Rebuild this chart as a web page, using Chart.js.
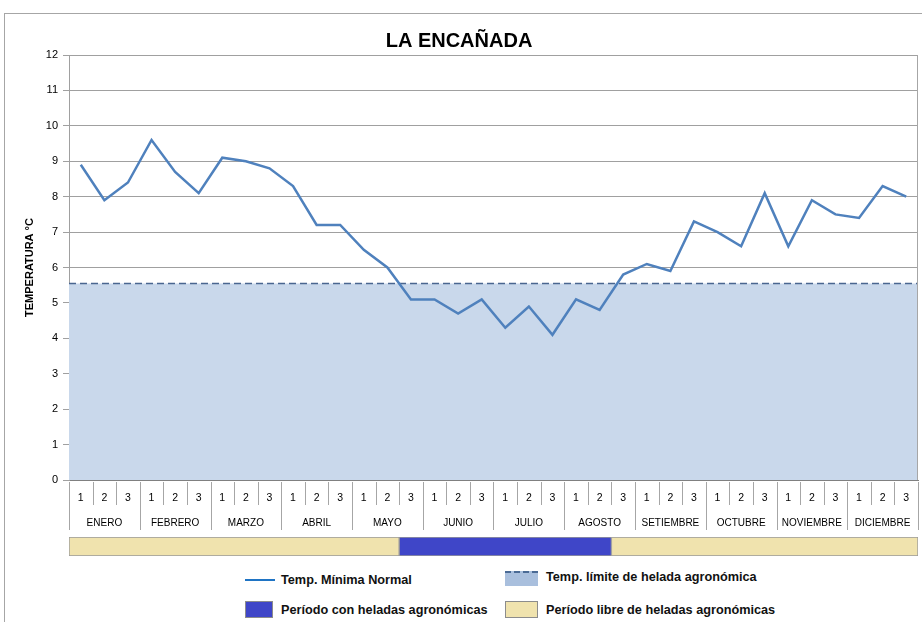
<!DOCTYPE html>
<html>
<head>
<meta charset="utf-8">
<script src="https://cdn.jsdelivr.net/npm/chart.js@4"></script>
<style>
  body { margin: 0; background: #fff; font-family: "Liberation Sans", Arial, sans-serif; }
  #marco { position: absolute; left: 4px; top: 13px; width: 940px; height: 640px; border: 1px solid #A6A6A6; }
  #graf { position: absolute; left: 0; top: 0; width: 922px; height: 535px; }
  #peri { position: absolute; left: 0; top: 535px; width: 922px; height: 24px; }
  .ley { position: absolute; font-size: 12.7px; font-weight: bold; color: #111; white-space: nowrap; }
  .muestra { position: absolute; }
</style>
</head>
<body>
<div id="marco"></div>
<div id="graf"><canvas id="chartTemp"></canvas></div>
<div id="peri"><canvas id="chartPeriodo"></canvas></div>

<!-- leyenda -->
<div class="muestra" style="left:245px;top:579px;width:30px;height:2px;background:#1F74C4"></div>
<div class="ley" style="left:281px;top:573px">Temp. Mínima Normal</div>
<div class="muestra" style="left:505px;top:571px;width:33px;height:15px;background:#A9BFDD;border-top:2px dashed #4A6A95;box-sizing:border-box"></div>
<div class="ley" style="left:546px;top:570px">Temp. límite de helada agronómica</div>
<div class="muestra" style="left:245px;top:601px;width:28px;height:17px;background:#3F46C8;border:1px solid #8C8C8C;box-sizing:border-box"></div>
<div class="ley" style="left:281px;top:603px">Período con heladas agronómicas</div>
<div class="muestra" style="left:505px;top:601px;width:33px;height:17px;background:#F0E3AE;border:1px solid #8C8C8C;box-sizing:border-box"></div>
<div class="ley" style="left:546px;top:603px">Período libre de heladas agronómicas</div>

<script>
/* =========================
   DATOS
========================= */
const meses = ["ENERO", "FEBRERO", "MARZO", "ABRIL", "MAYO", "JUNIO",
  "JULIO", "AGOSTO", "SETIEMBRE", "OCTUBRE", "NOVIEMBRE", "DICIEMBRE"];
const decadas = ["1", "2", "3"];

// temperatura minima normal por decada (°C)
const tempMinima = [
  8.9, 7.9, 8.4,   9.6, 8.7, 8.1,   9.1, 9.0, 8.8,   8.3, 7.2, 7.2,
  6.5, 6.0, 5.1,   5.1, 4.7, 5.1,   4.3, 4.9, 4.1,   5.1, 4.8, 5.8,
  6.1, 5.9, 7.3,   7.0, 6.6, 8.1,   6.6, 7.9, 7.5,   7.4, 8.3, 8.0
];

// temperatura limite de helada agronomica
const tempLimite = 5.55;

// 1 = periodo con heladas, 0 = periodo libre
const periodo = [
  0, 0, 0,  0, 0, 0,  0, 0, 0,  0, 0, 0,
  0, 0, 1,  1, 1, 1,  1, 1, 1,  1, 1, 0,
  0, 0, 0,  0, 0, 0,  0, 0, 0,  0, 0, 0
];

const yTicks = [0, 1, 2, 3, 4, 5, 6, 7, 8, 9, 10, 11, 12];

const etiquetas = meses.flatMap(() => decadas);

/* =========================
   PLUGIN: lineas de la tabla del eje X
========================= */
const tablaEje = {
  id: "tablaEje",
  afterDraw(chart) {
    const { ctx, chartArea: a, scales: { x } } = chart;
    const paso = x.getPixelForValue(1) - x.getPixelForValue(0);
    ctx.save();
    ctx.strokeStyle = "#A6A6A6";
    ctx.lineWidth = 1;
    for (let i = 0; i <= etiquetas.length; i++) {
      const px = Math.round(x.getPixelForValue(i) - paso / 2) + 0.5;
      const fin = i % 3 === 0 ? a.bottom + 50 : a.bottom + 25;
      ctx.beginPath();
      ctx.moveTo(px, a.bottom + 2);
      ctx.lineTo(px, fin);
      ctx.stroke();
    }
    // borde derecho del area
    ctx.beginPath();
    ctx.moveTo(Math.round(a.right) - 0.5, a.top);
    ctx.lineTo(Math.round(a.right) - 0.5, a.bottom);
    ctx.stroke();
    ctx.restore();
  }
};

/* =========================
   GRAFICO PRINCIPAL
========================= */
new Chart(document.getElementById("chartTemp"), {
  type: "line",
  data: {
    labels: etiquetas,
    datasets: [
      {
        label: "Temp. Mínima Normal",
        data: tempMinima,
        xAxisID: "x",
        borderColor: "#4F81BD",
        borderWidth: 2.5,
        pointRadius: 0,
        tension: 0,
        fill: false
      },
      {
        label: "Temp. límite de helada agronómica",
        data: [{ x: 0, y: tempLimite }, { x: etiquetas.length, y: tempLimite }],
        xAxisID: "xl",
        borderColor: "#4A6690",
        borderWidth: 1.5,
        borderDash: [7, 4],
        backgroundColor: "#C9D8EB",
        fill: "origin",
        pointRadius: 0
      }
    ]
  },
  options: {
    responsive: true,
    maintainAspectRatio: false,
    animation: false,
    layout: { padding: { left: 0, right: 4, top: 0, bottom: 3 } },
    plugins: {
      legend: { display: false },
      tooltip: { enabled: false },
      title: {
        display: true,
        text: "LA ENCAÑADA",
        color: "#000",
        font: { family: "Liberation Sans", size: 20, weight: "bold" },
        padding: { top: 29, bottom: 2 }
      }
    },
    scales: {
      x: {
        type: "category",
        offset: true,
        grid: { display: false },
        border: { display: true, color: "#808080", width: 1 },
        ticks: {
          autoSkip: false, maxRotation: 0, padding: 4,
          color: "#000",
          font: { family: "Liberation Sans", size: 10.5 }
        },
        afterFit: s => { s.height = 22; }
      },
      xm: {
        type: "category",
        labels: meses,
        position: "bottom",
        offset: true,
        weight: 1,
        grid: { display: false },
        border: { display: false },
        ticks: {
          autoSkip: false, maxRotation: 0, padding: 7,
          color: "#000",
          font: { family: "Liberation Sans", size: 10 }
        },
        afterFit: s => { s.height = 30; }
      },
      xl: {
        type: "linear",
        display: false,
        min: 0,
        max: etiquetas.length
      },
      y: {
        min: 0,
        max: 12,
        afterBuildTicks: s => { s.ticks = yTicks.map(v => ({ value: v })); },
        grid: { color: "#A0A0A0", lineWidth: 1, tickLength: 6 },
        border: { display: true, color: "#A0A0A0" },
        ticks: {
          padding: 5,
          color: "#000",
          font: { family: "Liberation Sans", size: 11 }
        },
        title: {
          display: true,
          text: "TEMPERATURA °C",
          color: "#000",
          font: { family: "Liberation Sans", size: 11, weight: "bold" },
          padding: { top: 23, bottom: 0 }
        },
        afterFit: s => { s.width = 69; }
      }
    }
  },
  plugins: [tablaEje]
});

/* =========================
   BARRA DE PERIODOS
========================= */
function tramos(arr) {
  const out = [];
  arr.forEach((v, i) => {
    if (i === 0 || v !== arr[i - 1]) out.push({ tipo: v, n: 1 });
    else out[out.length - 1].n++;
  });
  return out;
}

new Chart(document.getElementById("chartPeriodo"), {
  type: "bar",
  data: {
    labels: [""],
    datasets: tramos(periodo).map(t => ({
      label: t.tipo ? "Período con heladas agronómicas" : "Período libre de heladas agronómicas",
      data: [t.n],
      backgroundColor: t.tipo ? "#3F46C8" : "#F0E3AE",
      borderColor: "#9A9A9A",
      borderWidth: 1,
      borderSkipped: false,
      barPercentage: 1,
      categoryPercentage: 1
    }))
  },
  options: {
    indexAxis: "y",
    responsive: true,
    maintainAspectRatio: false,
    animation: false,
    layout: { padding: { left: 69, right: 4, top: 2, bottom: 3 } },
    plugins: { legend: { display: false }, tooltip: { enabled: false } },
    scales: {
      x: { type: "linear", stacked: true, min: 0, max: periodo.length, display: false },
      y: { stacked: true, display: false }
    }
  }
});
</script>
</body>
</html>
